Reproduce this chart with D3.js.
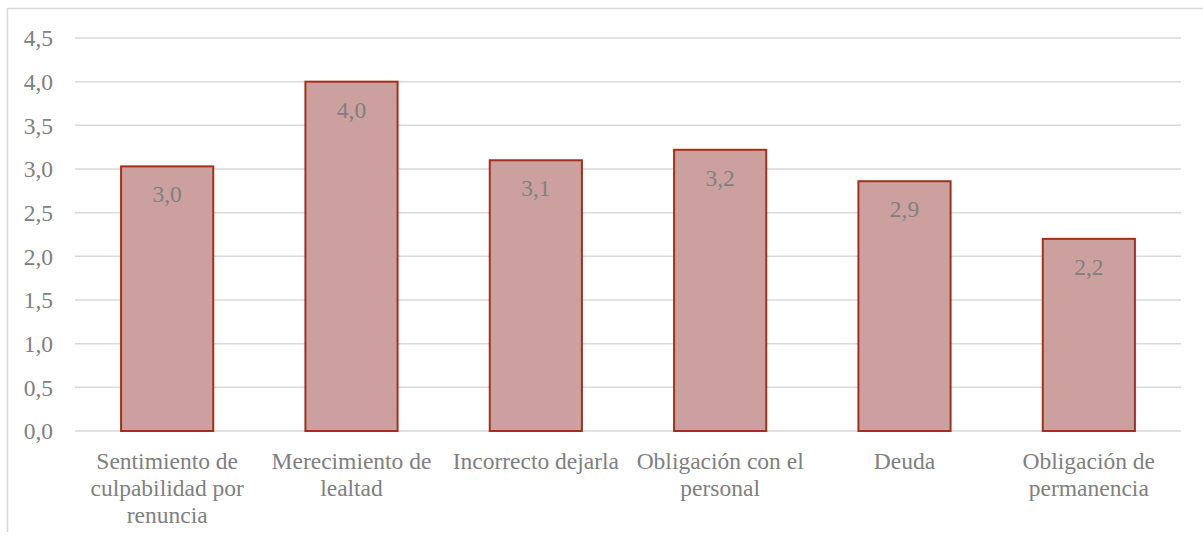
<!DOCTYPE html>
<html><head><meta charset="utf-8">
<script src="https://cdn.jsdelivr.net/npm/d3@7"></script>
<style>body{margin:0;background:#fff}svg{display:block}
svg text{font-family:"Liberation Serif","Times New Roman",serif;}</style>
</head><body><svg id="c" width="1203" height="538"></svg>
<script>
const categories = [
  ["Sentimiento de","culpabilidad por","renuncia"],
  ["Merecimiento de","lealtad"],
  ["Incorrecto dejarla"],
  ["Obligación con el","personal"],
  ["Deuda"],
  ["Obligación de","permanencia"]
];
const values = [3.03, 4.0, 3.1, 3.22, 2.86, 2.2];
const yTicks = [0,0.5,1,1.5,2,2.5,3,3.5,4,4.5];

(function(){
const svg = d3.select("#c");
const mLeft = 75, mRight = 1181, mTop = 38, mBottom = 431;
const txt = "#808080";
const fs = 23.5;

svg.append("path").attr("d","M7.5,532V8.5H1203")
  .attr("fill","none").attr("stroke","#d9d9d9").attr("stroke-width",1.5);

const x = d3.scaleBand().domain(d3.range(categories.length)).range([mLeft,mRight]).paddingInner(0.5).paddingOuter(0.25);
const y = d3.scaleLinear().domain([0,4.5]).range([mBottom,mTop]);
const fmt = v => d3.format(".1f")(v).replace(".",",");

svg.append("g").selectAll("line").data(yTicks).join("line")
  .attr("x1",mLeft).attr("x2",mRight).attr("y1",d=>y(d)).attr("y2",d=>y(d))
  .attr("stroke","#d9d9d9").attr("stroke-width",1.5);

const yAxis = d3.axisLeft(y).tickValues(yTicks).tickFormat(fmt).tickSize(0).tickPadding(22);
const ya = svg.append("g").attr("transform",`translate(${mLeft},0)`).call(yAxis);
ya.select(".domain").remove();
ya.attr("font-family",null);
ya.selectAll("text").attr("font-size",fs).attr("fill",txt).attr("dy","0.33em");

svg.append("g").selectAll("rect").data(values).join("rect")
  .attr("x",(d,i)=>x(i)).attr("width",x.bandwidth())
  .attr("y",d=>y(d)).attr("height",d=>y(0)-y(d))
  .attr("fill","#cca09f").attr("stroke","#a3301a").attr("stroke-width",2);

svg.append("g").selectAll("text").data(values).join("text")
  .attr("x",(d,i)=>x(i)+x.bandwidth()/2).attr("y",d=>y(d)+36)
  .attr("text-anchor","middle").attr("font-size",fs).attr("fill",txt)
  .text(fmt);

const xa = svg.append("g").attr("transform",`translate(0,${mBottom})`)
  .call(d3.axisBottom(x).tickSize(0).tickFormat(""));
xa.select(".domain").remove();
svg.append("g").selectAll("text").data(categories).join("text")
  .attr("text-anchor","middle").attr("font-size",fs).attr("fill",txt)
  .attr("x",(d,i)=>x(i)+x.bandwidth()/2).attr("y",469)
  .each(function(lines){
    const t = d3.select(this), cx = t.attr("x");
    lines.forEach((l,k)=>t.append("tspan").attr("x",cx).attr("dy",k?27:0).text(l));
  });
})();
</script></body></html>
